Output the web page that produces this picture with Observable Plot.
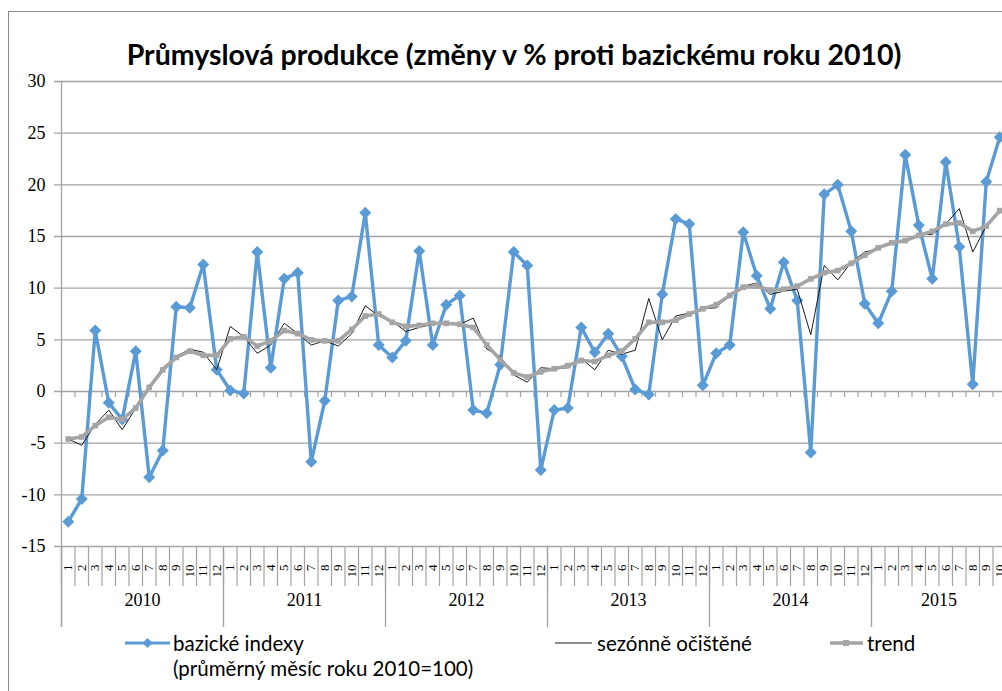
<!DOCTYPE html>
<html><head><meta charset="utf-8">
<script src="https://cdn.jsdelivr.net/npm/d3@7"></script>
<script src="https://cdn.jsdelivr.net/npm/@observablehq/plot@0.6"></script>
<style>
body{margin:0;background:#fff;}
#wrap{position:relative;width:1002px;height:691px;overflow:hidden;background:#fff;}
#frame{position:absolute;left:8px;top:11px;width:1100px;height:800px;border:1.5px solid #8a8a8a;box-sizing:border-box;}
#title{position:absolute;left:14px;width:1000px;top:37px;line-height:34px;text-align:center;font-family:Lato,sans-serif;font-weight:bold;font-size:28.5px;color:#000;white-space:nowrap;}
#chart{position:absolute;left:0;top:0;}
.leg{position:absolute;font-family:Lato,sans-serif;font-size:20.5px;line-height:24px;color:#000;white-space:nowrap;}
.sw{position:absolute;}
</style></head><body>
<div id="wrap">
  <div id="frame"></div>
  <div id="title">Průmyslová produkce (změny v % proti bazickému roku 2010)</div>
  <div id="chart"></div>
  <svg class="sw" style="left:120px;top:633px" width="56" height="20"><line x1="5" y1="10" x2="50" y2="10" stroke="#5b9bd5" stroke-width="3"/><path d="M27.5,5 L32.5,10 L27.5,15 L22.5,10Z" fill="#5b9bd5"/></svg>
  <div class="leg" style="left:173px;top:631px">bazické indexy</div>
  <div class="leg" style="left:173px;top:656px">(průměrný měsíc roku 2010=100)</div>
  <svg class="sw" style="left:550px;top:633px" width="46" height="20"><line x1="5" y1="10" x2="42" y2="10" stroke="#1a1a1a" stroke-width="1"/></svg>
  <div class="leg" style="left:597px;top:631px">sezónně očištěné</div>
  <svg class="sw" style="left:825px;top:633px" width="42" height="20"><line x1="5" y1="10" x2="38" y2="10" stroke="#a5a5a5" stroke-width="3.5"/><rect x="18" y="7" width="6" height="6" fill="#a5a5a5"/></svg>
  <div class="leg" style="left:867px;top:631px">trend</div>
</div>
<script>
// ---- data ----
const years = ["2010", "2011", "2012", "2013", "2014", "2015"];
const monthLabels = ["1","2","3","4","5","6","7","8","9","10","11","12"];
const yTicks = [-15, -10, -5, 0, 5, 10, 15, 20, 25, 30];

// bazické indexy (průměrný měsíc roku 2010=100), změna v %
const bazicke = [
  -12.6, -10.4, 5.9, -1.1, -2.7, 3.9, -8.3, -5.7, 8.2, 8.1, 12.3, 2.1,
  0.1, -0.2, 13.5, 2.3, 10.9, 11.5, -6.8, -0.9, 8.8, 9.2, 17.3, 4.5,
  3.3, 4.9, 13.6, 4.5, 8.4, 9.3, -1.8, -2.1, 2.6, 13.5, 12.2, -7.6,
  -1.8, -1.6, 6.2, 3.8, 5.6, 3.4, 0.2, -0.3, 9.4, 16.7, 16.2, 0.6,
  3.7, 4.5, 15.4, 11.2, 8.0, 12.5, 8.8, -5.9, 19.1, 20.0, 15.5, 8.5,
  6.6, 9.7, 22.9, 16.1, 10.9, 22.2, 14.0, 0.7, 20.3, 24.6
];
// sezónně očištěné
const sezonne = [
  -4.6, -5.2, -3.2, -1.8, -3.7, -1.6, 0.4, 2.3, 3.4, 4.1, 3.8, 2.1,
  6.3, 5.3, 3.7, 4.5, 6.6, 5.6, 4.5, 4.9, 4.4, 5.6, 8.3, 7.3,
  6.8, 5.8, 6.2, 6.5, 6.7, 6.5, 7.1, 4.1, 3.4, 1.6, 0.9, 2.3,
  2.2, 2.3, 3.2, 2.1, 4.0, 3.6, 4.0, 9.0, 5.0, 7.3, 7.6, 8.0,
  8.1, 9.4, 10.2, 10.5, 9.4, 9.7, 9.9, 5.5, 12.2, 10.8, 12.5, 13.5,
  13.8, 14.4, 14.7, 15.2, 15.2, 16.2, 17.7, 13.5, 16.0, 17.7
];
// trend
const trend = [
  -4.6, -4.4, -3.3, -2.5, -2.7, -1.6, 0.4, 2.1, 3.3, 3.9, 3.5, 3.5,
  5.1, 5.3, 4.4, 4.9, 5.9, 5.6, 5.0, 4.9, 4.9, 6.0, 7.3, 7.5,
  6.7, 6.3, 6.4, 6.6, 6.6, 6.5, 6.2, 4.5, 3.1, 1.8, 1.4, 1.9,
  2.2, 2.5, 3.0, 2.9, 3.5, 3.9, 5.1, 6.7, 6.7, 6.9, 7.5, 8.0,
  8.4, 9.3, 10.1, 10.2, 9.8, 9.9, 10.2, 10.9, 11.5, 11.7, 12.4, 13.2,
  13.9, 14.4, 14.6, 15.1, 15.5, 16.2, 16.3, 15.5, 16.0, 17.5
];

// ---- layout ----
const n = bazicke.length;
const xRange = [61, 1006];
const yRange = [546, 81];
const pxPerUnit = (yRange[0] - yRange[1]) / (yTicks[yTicks.length-1] - yTicks[0]);
const pxPerMonth = (xRange[1] - xRange[0]) / n;
const yMin = yTicks[0];
const u = px => px / pxPerUnit; // px -> y units

const rows = d3.range(n).map(i => ({
  i, year: years[Math.floor(i / 12)], month: monthLabels[i % 12],
  base: bazicke[i], sa: sezonne[i], trend: trend[i]
}));
const bounds = d3.range(n + 1).map(i => i - 0.5);
const yearRows = years.map((y, k) => {
  const ids = rows.filter(r => r.year === y).map(r => r.i);
  return {year: y, center: (ids[0] + ids[ids.length - 1]) / 2, start: ids[0] - 0.5};
});
const yearBounds = yearRows.map(d => d.start).concat([n - 0.5]);

const grid = "#a3a3a3";
const serif = "Liberation Serif, Times New Roman, serif";

const chart = Plot.plot({
  width: 1002,
  height: 691,
  marginLeft: 0, marginRight: 0, marginTop: 0, marginBottom: 0,
  x: {type: "linear", domain: [-0.5, n - 0.5], range: xRange, axis: null},
  y: {type: "linear", domain: [yMin, yTicks[yTicks.length-1]], range: yRange, axis: null},
  style: {background: "transparent", overflow: "visible"},
  marks: [
    Plot.ruleY(yTicks, {y: d => d, x1: -0.5 - 7 / pxPerMonth, x2: n - 0.5, stroke: grid, strokeWidth: 1.3}),
    Plot.ruleX([-0.5], {y1: yTicks[yTicks.length-1], y2: yMin - u(81), stroke: grid, strokeWidth: 1.3}),
    Plot.ruleX(bounds, {x: d => d, y1: 0, y2: -u(6), stroke: grid, strokeWidth: 1.2}),
    Plot.ruleX(bounds, {x: d => d, y1: yMin, y2: yMin - u(40), stroke: grid, strokeWidth: 1.2}),
    Plot.ruleX(yearBounds, {x: d => d, y1: yMin, y2: yMin - u(81), stroke: grid, strokeWidth: 1.3}),
    Plot.text(yTicks, {y: d => d, frameAnchor: "left", x: null, dx: 45, textAnchor: "end", text: d => String(d), fontSize: 18, fontFamily: serif, fill: "#000"}),
    Plot.text(rows, {x: "i", y: () => yMin, dy: 18, rotate: -90, textAnchor: "end", text: "month", fontSize: 13, fontFamily: serif, fill: "#000"}),
    Plot.text(yearRows, {x: "center", y: () => yMin, dy: 54, text: "year", fontSize: 18, fontFamily: serif, fill: "#000"}),
    Plot.line(rows, {x: "i", y: "base", stroke: "#5b9bd5", strokeWidth: 3.4}),
    Plot.dot(rows, {x: "i", y: "base", symbol: "diamond2", r: 5.4, fill: "#5b9bd5", stroke: "none"}),
    Plot.line(rows, {x: "i", y: "sa", stroke: "#1a1a1a", strokeWidth: 1}),
    Plot.line(rows, {x: "i", y: "trend", stroke: "#a5a5a5", strokeWidth: 3.6}),
    Plot.dot(rows, {x: "i", y: "trend", symbol: "square", r: 3.2, fill: "#a5a5a5", stroke: "none"})
  ]
});
document.getElementById("chart").appendChild(chart);
</script>
</body></html>
